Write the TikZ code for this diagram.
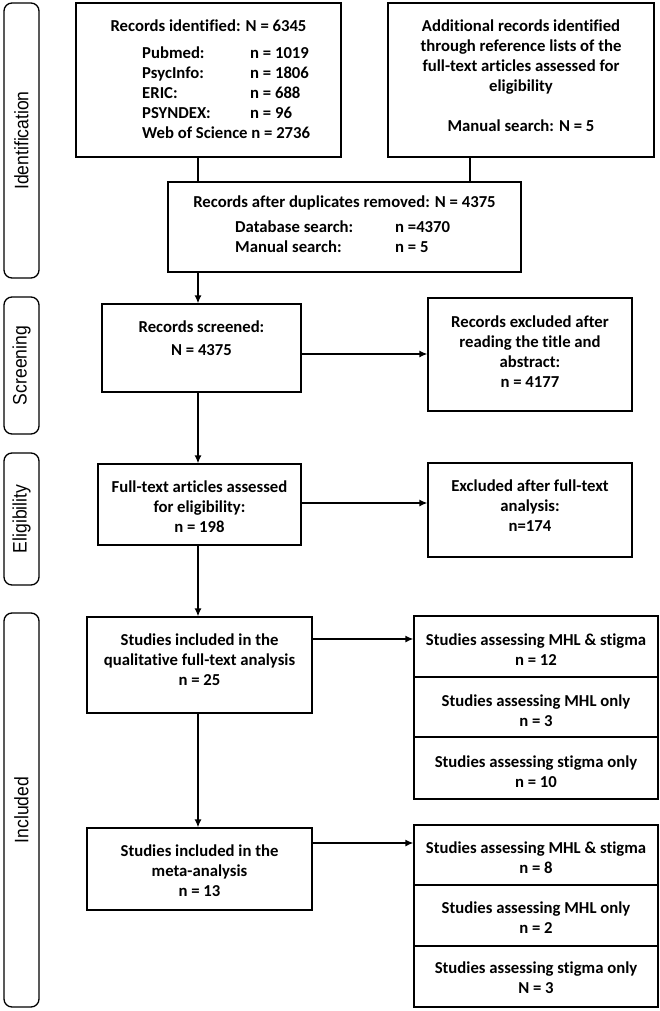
\documentclass[tikz,border=0pt]{standalone}
\usepackage{fontspec}
\setmainfont[RawFeature=-liga]{Carlito}
\newfontfamily\sidefont[FakeStretch=0.9]{Liberation Sans}
\usetikzlibrary{arrows.meta}
\newcommand\flowbox[6][box]{\node[#1, minimum width={(#5)-(#3)}, minimum height={(#6)-(#4)}] (#2) at ({((#3)+(#5))/2},{((#4)+(#6))/2}) {};}
\begin{document}
\begin{tikzpicture}[x=1pt,y=-1pt,
  box/.style={draw, line width=1.3pt, inner sep=0pt},
  side/.style={draw, line width=1.3pt, rounded corners=8pt, inner sep=0pt},
  txt/.style={inner sep=0pt, align=center, font=\bfseries\fontsize{16.7}{20}\selectfont},
  ltxt/.style={inner sep=0pt, align=left, anchor=west, font=\bfseries\fontsize{16.7}{20}\selectfont},
  sidetxt/.style={inner sep=0pt, rotate=90, font=\sidefont\fontsize{19.5}{22}\selectfont},
  arr/.style={line width=1.3pt, -{Latex[length=8pt,width=7pt]}},
  ln/.style={line width=1.3pt}]
\useasboundingbox (0,0) rectangle (660,1011);

% phase labels
\flowbox[side]{idb}{4}{3}{39}{278}
\flowbox[side]{scb}{4}{297}{39}{434}
\flowbox[side]{elb}{4}{453}{39}{585}
\flowbox[side]{inb}{4}{613}{39}{1007}
\node[sidetxt] (idt) at (idb) {Identification};
\node[sidetxt] (sct) at (scb) {Screening};
\node[sidetxt] (elt) at (elb) {Eligibility};
\node[sidetxt] (int) at (inb) {Included};

% boxes
\flowbox{recid}{76}{3}{341}{157}
\flowbox{addrec}{388}{3}{654}{157}
\flowbox{dup}{168}{182}{521}{272}
\flowbox{scr}{102}{304}{301}{392}
\flowbox{exa}{428}{298}{632}{411}
\flowbox{ft}{98}{464}{301}{545}
\flowbox{exb}{428}{463}{632}{557}
\flowbox{qual}{87}{617}{312}{713}
\flowbox{sa1}{414}{616}{658}{677}
\flowbox{sa2}{414}{677}{658}{737}
\flowbox{sa3}{414}{737}{658}{799}
\flowbox{meta}{87}{828}{312}{910}
\flowbox{sb1}{414}{825}{658}{885}
\flowbox{sb2}{414}{885}{658}{946}
\flowbox{sb3}{414}{946}{658}{1007}

% texts
\node[txt] (recidT) at (208.5,26) {Records identified: N = 6345};
\node[ltxt] (recidL) at (142,92.5) {\makebox[108pt][l]{Pubmed:}n = 1019\\
\makebox[108pt][l]{PsycInfo:}n = 1806\\
\makebox[108pt][l]{ERIC:}n = 688\\
\makebox[108pt][l]{PSYNDEX:}n = 96\\
Web of Science n = 2736};
\node[txt] (addT) at (521,75.5) {Additional records identified\\through reference lists of the\\full-text articles assessed for\\eligibility\\[20pt]Manual search: N = 5};
\node[txt] (dupT) at (344.5,203) {Records after duplicates removed: N = 4375};
\node[ltxt] (dupL) at (235,237) {\makebox[160pt][l]{Database search:}n =4370\\
\makebox[160pt][l]{Manual search:}n = 5};
\node[txt] (scrT) at (201.5,338.5) {Records screened:\\[3pt]N = 4375};
\node[txt] (exaT) at (530,352) {Records excluded after\\reading the title and\\abstract:\\n = 4177};
\node[txt] (ftT) at (199.5,507) {Full-text articles assessed\\for eligibility:\\n = 198};
\node[txt] (exbT) at (530,506) {Excluded after full-text\\analysis:\\n=174};
\node[txt] (qualT) at (199.5,660) {Studies included in the\\qualitative full-text analysis\\n = 25};
\node[txt] (sa1T) at (536,649.5) {Studies assessing MHL \& stigma\\n = 12};
\node[txt] (sa2T) at (536,710.5) {Studies assessing MHL only\\n = 3};
\node[txt] (sa3T) at (536,771.5) {Studies assessing stigma only\\n = 10};
\node[txt] (metaT) at (199.5,871) {Studies included in the\\meta-analysis\\n = 13};
\node[txt] (sb1T) at (536,857.5) {Studies assessing MHL \& stigma\\n = 8};
\node[txt] (sb2T) at (536,917.5) {Studies assessing MHL only\\n = 2};
\node[txt] (sb3T) at (536,978) {Studies assessing stigma only\\N = 3};

% connectors
\coordinate (ax) at (198,0);
\coordinate (bx) at (470,0);
\draw[ln] (recid.south -| ax) -- (dup.north -| ax);
\draw[ln] (addrec.south -| bx) -- (dup.north -| bx);
\draw[arr] (dup.south -| ax) -- (scr.north -| ax);
\draw[arr] (scr.south -| ax) -- (ft.north -| ax);
\draw[arr] (ft.south -| ax) -- (qual.north -| ax);
\draw[arr] (qual.south -| ax) -- (meta.north -| ax);
\coordinate (ya) at (0,354);
\coordinate (yb) at (0,503);
\coordinate (yc) at (0,639);
\coordinate (yd) at (0,843);
\draw[arr] (scr.east |- ya) -- (exa.west |- ya);
\draw[arr] (ft.east |- yb) -- (exb.west |- yb);
\draw[arr] (qual.east |- yc) -- (sa1.west |- yc);
\draw[arr] (meta.east |- yd) -- (sb1.west |- yd);
\end{tikzpicture}
\end{document}
